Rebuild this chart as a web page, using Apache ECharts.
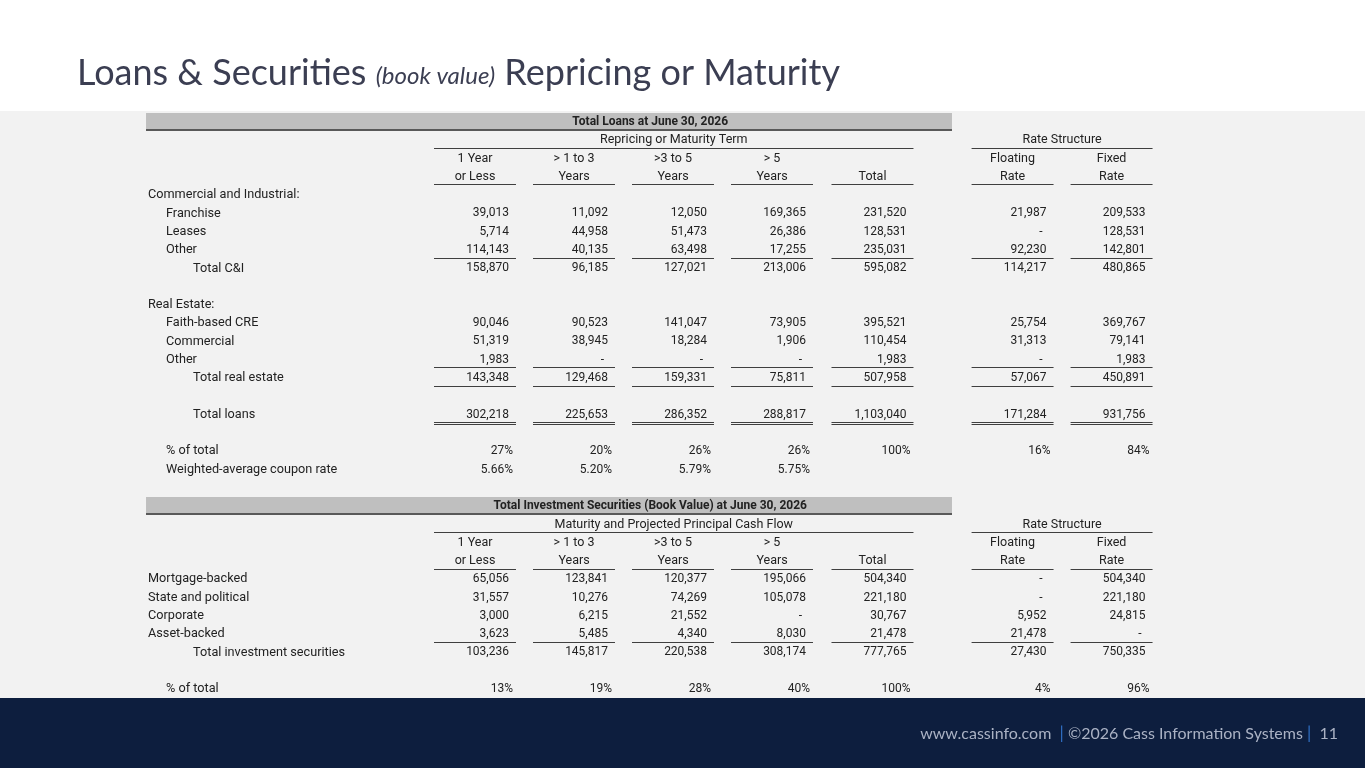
<!DOCTYPE html>
<html><head><meta charset="utf-8">
<script src="https://cdn.jsdelivr.net/npm/echarts@6/dist/echarts.min.js"></script>
<style>html,body{margin:0;padding:0;background:#fff}#c{width:1365px;height:768px}</style>
</head><body><div id="c"></div>
<script>
// ---------------- DATA ----------------
const pageTitle = 'Loans & Securities ';
const pageTitleItalic = '(book value)';
const pageTitleEnd = ' Repricing or Maturity';
const footerSite = 'www.cassinfo.com';
const footerCopy = '©2026 Cass Information Systems';
const footerPage = '11';

const loanTitle = 'Total Loans at June 30, 2026';
const loanSpan = 'Repricing or Maturity Term';
const secTitle = 'Total Investment Securities (Book Value) at June 30, 2026';
const secSpan = 'Maturity and Projected Principal Cash Flow';
const rateSpan = 'Rate Structure';
const headTop = ['1 Year', '> 1 to 3', '>3 to 5', '> 5', '', 'Floating', 'Fixed'];
const headBottom = ['or Less', 'Years', 'Years', 'Years', 'Total', 'Rate', 'Rate'];

// columns: 1Y or less, >1-3, >3-5, >5, Total, Floating, Fixed  (0 shown as "-")
const franchise    = [39013, 11092, 12050, 169365, 231520, 21987, 209533];
const leases       = [5714, 44958, 51473, 26386, 128531, 0, 128531];
const cniOther     = [114143, 40135, 63498, 17255, 235031, 92230, 142801];
const totalCI      = [158870, 96185, 127021, 213006, 595082, 114217, 480865];
const faithCRE     = [90046, 90523, 141047, 73905, 395521, 25754, 369767];
const commercialRE = [51319, 38945, 18284, 1906, 110454, 31313, 79141];
const reOther      = [1983, 0, 0, 0, 1983, 0, 1983];
const totalRE      = [143348, 129468, 159331, 75811, 507958, 57067, 450891];
const totalLoans   = [302218, 225653, 286352, 288817, 1103040, 171284, 931756];
const loanPct      = [27, 20, 26, 26, 100, 16, 84];
const loanWac      = [5.66, 5.20, 5.79, 5.75, null, null, null];

const mortgageBacked  = [65056, 123841, 120377, 195066, 504340, 0, 504340];
const statePolitical  = [31557, 10276, 74269, 105078, 221180, 0, 221180];
const corporate       = [3000, 6215, 21552, 0, 30767, 5952, 24815];
const assetBacked     = [3623, 5485, 4340, 8030, 21478, 21478, 0];
const totalSecurities = [103236, 145817, 220538, 308174, 777765, 27430, 750335];
const secPct          = [13, 19, 28, 40, 100, 4, 96];

// ---------------- LAYOUT (axis units: one column step = 1) ----------------
const COL_X = [0, 1, 2, 3, 4.015, 5.43, 6.43];
const HALF = 0.414, NUM_R = 0.343, PCT_R = 0.384, DASH_OFF = 0.04;
const LABEL_X = [-3.303, -3.121, -2.848];
const BAR_X1 = -3.323, BAR_X2 = 4.818, BAR_TEXT_X = 1.77;
const NROWS = 32;
const rowKeys = Array.from({length: NROWS}, (_, i) => 'r' + i);

const TEXT = '#222222', FONT = 'Roboto, "Noto Sans", sans-serif';
const FS_NUM = 12, FS_LABEL = 12.7, FS_HEAD = 12.5, FS_BAR = 12;

const fmtNum = v => v === 0 ? '-' : v.toLocaleString('en-US');
const fmtPct = v => v + '%';
const fmtRate = v => v.toFixed(2) + '%';

const cells = [], rules = [], bars = [];
function label(row, text, indent) { cells.push({x: LABEL_X[indent], row, text, align: 'left', fs: FS_LABEL}); }
function values(row, vals, fmt) {
  vals.forEach((v, i) => {
    if (v === null) return;
    const t = fmt(v);
    const r = fmt === fmtNum ? NUM_R : PCT_R;
    cells.push({x: COL_X[i] + r - (t === '-' ? DASH_OFF : 0), row, text: t, align: 'right', fs: FS_NUM});
  });
}
function colRules(row, dbl) { COL_X.forEach(c => rules.push({x1: c - HALF, x2: c + HALF, row, dbl})); }
function header(row0, title, span) {
  bars.push({row: row0, text: title});
  const a = (COL_X[0] - HALF + COL_X[4] + HALF) / 2, b = (COL_X[5] - HALF + COL_X[6] + HALF) / 2;
  cells.push({x: a, row: row0 + 1, text: span, align: 'center', fs: FS_HEAD});
  cells.push({x: b, row: row0 + 1, text: rateSpan, align: 'center', fs: FS_HEAD});
  rules.push({x1: COL_X[0] - HALF, x2: COL_X[4] + HALF, row: row0 + 1});
  rules.push({x1: COL_X[5] - HALF, x2: COL_X[6] + HALF, row: row0 + 1});
  headTop.forEach((t, i) => { if (t) cells.push({x: COL_X[i], row: row0 + 2, text: t, align: 'center', fs: FS_HEAD}); });
  headBottom.forEach((t, i) => cells.push({x: COL_X[i], row: row0 + 3, text: t, align: 'center', fs: FS_HEAD}));
  colRules(row0 + 3);
}

// Loans table
header(0, loanTitle, loanSpan);
label(4, 'Commercial and Industrial:', 0);
label(5, 'Franchise', 1); values(5, franchise, fmtNum);
label(6, 'Leases', 1); values(6, leases, fmtNum);
label(7, 'Other', 1); values(7, cniOther, fmtNum); colRules(7);
label(8, 'Total C&I', 2); values(8, totalCI, fmtNum);
label(10, 'Real Estate:', 0);
label(11, 'Faith-based CRE', 1); values(11, faithCRE, fmtNum);
label(12, 'Commercial', 1); values(12, commercialRE, fmtNum);
label(13, 'Other', 1); values(13, reOther, fmtNum); colRules(13);
label(14, 'Total real estate', 2); values(14, totalRE, fmtNum); colRules(14);
label(16, 'Total loans', 2); values(16, totalLoans, fmtNum); colRules(16, true);
label(18, '% of total', 1); values(18, loanPct, fmtPct);
label(19, 'Weighted-average coupon rate', 1); values(19, loanWac, fmtRate);

// Securities table
header(21, secTitle, secSpan);
label(25, 'Mortgage-backed', 0); values(25, mortgageBacked, fmtNum);
label(26, 'State and political', 0); values(26, statePolitical, fmtNum);
label(27, 'Corporate', 0); values(27, corporate, fmtNum);
label(28, 'Asset-backed', 0); values(28, assetBacked, fmtNum); colRules(28);
label(29, 'Total investment securities', 2); values(29, totalSecurities, fmtNum);
label(31, '% of total', 1); values(31, secPct, fmtPct);

// ---------------- CHART ----------------
const chart = echarts.init(document.getElementById('c'));
const snap = v => Math.round(v) + 0.5;

chart.setOption({
  animation: false,
  backgroundColor: '#ffffff',
  grid: {left: 128.5, right: 197, top: 112.86, bottom: 69.84, outerBoundsMode: 'none', containLabel: false},
  xAxis: {type: 'value', min: -3.5, max: 7, show: false},
  yAxis: {type: 'category', data: rowKeys, inverse: true, show: false},
  graphic: [
    {type: 'rect', z: -100, silent: true, shape: {x: 0, y: 111, width: 1365, height: 588}, style: {fill: '#f2f2f2'}},
    {type: 'rect', z: -100, silent: true, shape: {x: 0, y: 698, width: 1365, height: 70}, style: {fill: '#0d1e3e'}},
    {type: 'text', left: 77, top: 55, silent: true, style: {
      text: '{a|' + pageTitle + '}{b|' + pageTitleItalic + '}{a|' + pageTitleEnd + '}',
      rich: {
        a: {fontFamily: 'Lato, "Open Sans", sans-serif', fontSize: 36, fill: '#3b3e52', color: '#3b3e52', lineHeight: 44, verticalAlign: 'bottom'},
        b: {fontFamily: 'Lato, "Open Sans", sans-serif', fontSize: 24, fontStyle: 'italic', fill: '#3b3e52', color: '#3b3e52', lineHeight: 44, verticalAlign: 'bottom', padding: [0, 0, 3, 0]}
      }
    }},
    {type: 'text', right: 27, top: 725, silent: true, style: {
      text: '{a|' + footerSite + '  }{b||}{a| ' + footerCopy + ' }{b||}{a|  ' + footerPage + '}',
      rich: {
        a: {fontFamily: 'Lato, "Open Sans", sans-serif', fontSize: 16, fill: '#aab2c4', color: '#aab2c4'},
        b: {fontFamily: 'Lato, "Open Sans", sans-serif', fontSize: 17, fill: '#2f6fc4', color: '#2f6fc4'}
      }
    }}
  ],
  series: [
    {
      type: 'custom', name: 'bars', silent: true, z: 1,
      data: bars.map(b => [BAR_X1, b.row]),
      encode: {x: 0, y: 1},
      renderItem: (params, api) => {
        const b = bars[params.dataIndex];
        const p1 = api.coord([BAR_X1, b.row]), p2 = api.coord([BAR_X2, b.row]);
        const h = api.size([0, 1])[1];
        const pt = api.coord([BAR_TEXT_X, b.row]);
        const top = Math.round(p1[1] - h / 2), bot = Math.round(p1[1] + h / 2);
        return {type: 'group', children: [
          {type: 'rect', shape: {x: p1[0], y: top, width: p2[0] - p1[0], height: bot - top}, style: {fill: '#bfbfbf'}},
          {type: 'rect', shape: {x: p1[0], y: bot - 2, width: p2[0] - p1[0], height: 2}, style: {fill: '#595959'}},
          {type: 'text', x: pt[0], y: p1[1] - 0.5, style: {text: b.text, fill: TEXT, font: 'bold ' + FS_BAR + 'px ' + FONT,
            align: 'center', verticalAlign: 'middle', textAlign: 'center', textVerticalAlign: 'middle'}}
        ]};
      }
    },
    {
      type: 'custom', name: 'rules', silent: true, z: 2,
      data: rules.map(r => [r.x1, r.row]),
      encode: {x: 0, y: 1},
      renderItem: (params, api) => {
        const r = rules[params.dataIndex];
        const p1 = api.coord([r.x1, r.row]), p2 = api.coord([r.x2, r.row]);
        const st = {stroke: '#3f3f3f', lineWidth: 1};
        if (r.dbl) {
          const y1 = snap(p1[1] + 7), y2 = snap(p1[1] + 9.6);
          return {type: 'group', children: [
            {type: 'line', shape: {x1: p1[0], y1: y1, x2: p2[0], y2: y1}, style: st},
            {type: 'line', shape: {x1: p1[0], y1: y2, x2: p2[0], y2: y2}, style: st}
          ]};
        }
        const y = snap(p1[1] + 7.6);
        return {type: 'line', shape: {x1: p1[0], y1: y, x2: p2[0], y2: y}, style: st};
      }
    },
    {
      type: 'custom', name: 'cells', silent: true, z: 3,
      data: cells.map(c => [c.x, c.row]),
      encode: {x: 0, y: 1},
      renderItem: (params, api) => {
        const c = cells[params.dataIndex];
        const p = api.coord([c.x, c.row]);
        return {type: 'text', x: p[0], y: p[1], style: {text: c.text, fill: TEXT, font: c.fs + 'px ' + FONT,
          align: c.align, verticalAlign: 'middle', textAlign: c.align, textVerticalAlign: 'middle'}};
      }
    }
  ]
});
</script></body></html>
